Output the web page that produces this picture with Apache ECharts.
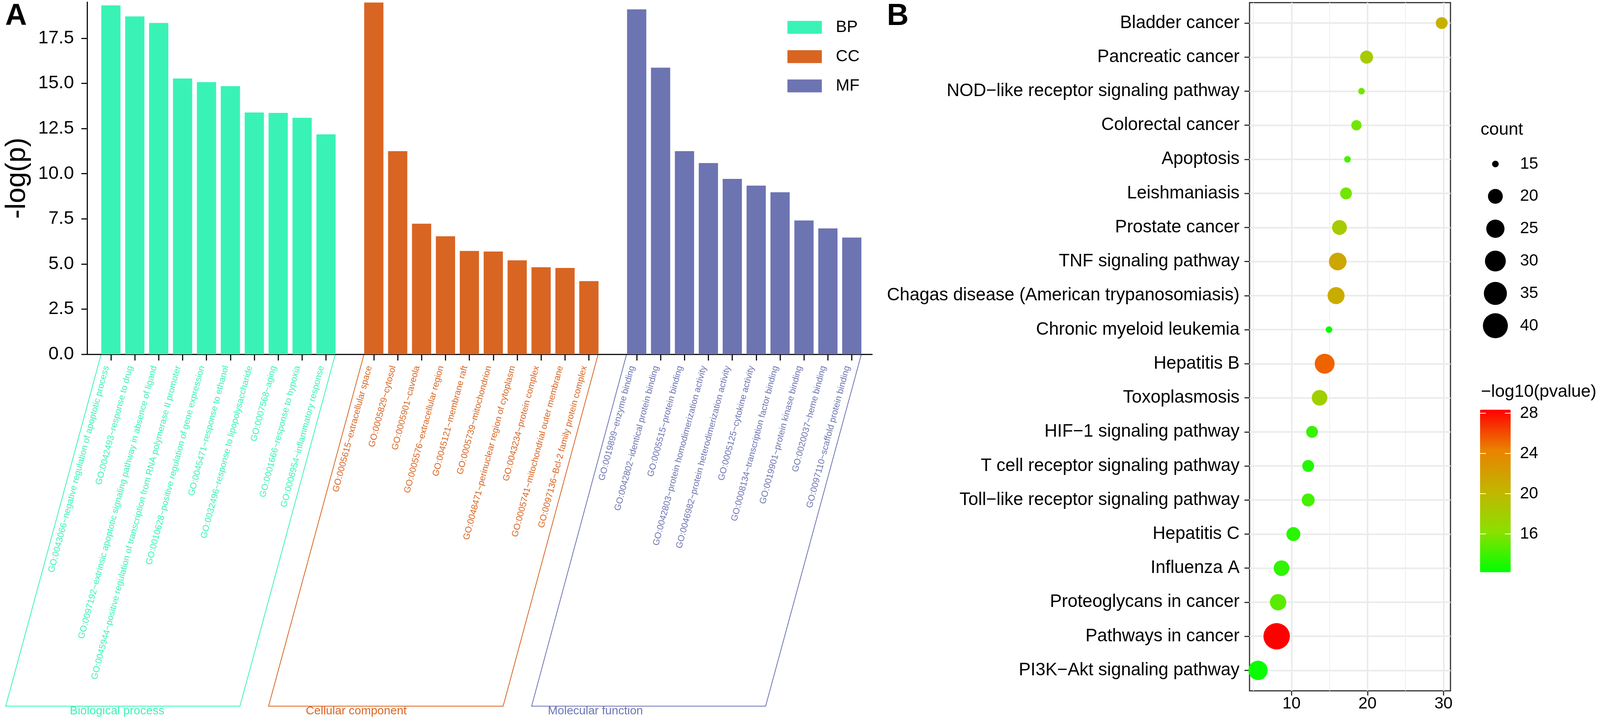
<!DOCTYPE html>
<html><head><meta charset="utf-8">
<style>html,body{margin:0;padding:0;background:#fff;overflow:hidden}#c{height:1846px}</style>
<script src="https://cdn.jsdelivr.net/npm/echarts@6/dist/echarts.min.js"></script>
</head><body><div id="c"></div>
<script>
const FONT = '"Liberation Sans", Arial, sans-serif';
// Panel A
const bpTerms = ['GO:0043066~negative regulation of apoptotic process','GO:0042493~response to drug','GO:0097192~extrinsic apoptotic signaling pathway in absence of ligand','GO:0045944~positive regulation of transcription from RNA polymerase II promoter','GO:0010628~positive regulation of gene expression','GO:0045471~response to ethanol','GO:0032496~response to lipopolysaccharide','GO:0007568~aging','GO:0001666~response to hypoxia','GO:0006954~inflammatory response'];
const ccTerms = ['GO:0005615~extracellular space','GO:0005829~cytosol','GO:0005901~caveola','GO:0005576~extracellular region','GO:0045121~membrane raft','GO:0005739~mitochondrion','GO:0048471~perinuclear region of cytoplasm','GO:0043234~protein complex','GO:0005741~mitochondrial outer membrane','GO:0097136~Bcl-2 family protein complex'];
const mfTerms = ['GO:0019899~enzyme binding','GO:0042802~identical protein binding','GO:0005515~protein binding','GO:0042803~protein homodimerization activity','GO:0046982~protein heterodimerization activity','GO:0005125~cytokine activity','GO:0008134~transcription factor binding','GO:0019901~protein kinase binding','GO:0020037~heme binding','GO:0097110~scaffold protein binding'];
const bpValues = [19.32,18.71,18.35,15.27,15.07,14.85,13.39,13.37,13.10,12.18];
const ccValues = [19.48,11.25,7.23,6.53,5.72,5.69,5.20,4.82,4.78,4.05];
const mfValues = [19.10,15.87,11.25,10.59,9.71,9.34,8.97,7.41,6.97,6.46];
const yTicksA = [0,2.5,5,7.5,10,12.5,15,17.5];
// Panel B
const pathways = ['Bladder cancer','Pancreatic cancer','NOD\u2212like receptor signaling pathway','Colorectal cancer','Apoptosis','Leishmaniasis','Prostate cancer','TNF signaling pathway','Chagas disease (American trypanosomiasis)','Chronic myeloid leukemia','Hepatitis B','Toxoplasmosis','HIF\u22121 signaling pathway','T cell receptor signaling pathway','Toll\u2212like receptor signaling pathway','Hepatitis C','Influenza A','Proteoglycans in cancer','Pathways in cancer','PI3K\u2212Akt signaling pathway'];
const enrichment = [29.77,19.88,19.21,18.54,17.36,17.17,16.31,16.08,15.86,14.93,14.36,13.69,12.70,12.19,12.19,10.24,8.68,8.23,8.04,5.59];
const counts = [17,18,15,16,15,17,20,24,23,15,28,21,17,17,18,19,21,22,44,27];
const logP = [20.6,18.3,15.5,15.5,14.2,15.5,18.2,21.5,21,12.4,25.3,17.8,13.8,13.2,14.2,13.4,13.6,14.8,28.35,12.5];
const xTicksB = [10,20,30];
const xMinorB = [5,15,25];
const legendCounts = [15,20,25,30,35,40];
const colorTicks = [16,20,24,28];

// the browser window may be narrower than the 4328 px reference; fit the layout to it
const W = Math.min(window.innerWidth || 4328, 4328);
const K = W/4328;
const X = v => v*K;
document.getElementById('c').style.width = W+'px';

const COLORS = {BP:'#39F3B6',CC:'#D96522',MF:'#6C74B2'};
const dotSize = c => 17 + 9.4*Math.sqrt(Math.max(c-15,0));
const termAt = i => i<10?bpTerms[i]:i===10?'':i<21?ccTerms[i-11]:i===21?'':mfTerms[i-22];
const colorAt = i => i<=10?COLORS.BP:i<=21?COLORS.CC:COLORS.MF;
const idx = [];for(let i=0;i<32;i++) if(i!==10&&i!==21) idx.push(i);
const barSeries = (name,vals,off)=>({name,type:'bar',xAxisIndex:0,yAxisIndex:0,barWidth:X(52),barGap:'-100%',
  itemStyle:{color:COLORS[name]},data:vals.map((v,i)=>[i+off,v])});
const pLine = (points,color)=>({type:'polyline',silent:true,shape:{points:points.map(p=>[X(p[0]),p[1]])},style:{stroke:color,fill:null,lineWidth:2}});
const gText = (text,x,y,size,color,extra)=>({type:'text',silent:true,x:X(x),y,style:Object.assign({text,fontSize:size,fontFamily:FONT,fill:color,verticalAlign:'middle'},extra||{})});

const option = {
  animation:false, backgroundColor:'#fff',
  grid:[
    {left:X(236),top:5.5,width:X(2123),height:901.5},
    {left:X(3380),top:6.7,width:X(543.5),height:1762,show:true,borderColor:'#333',borderWidth:3,backgroundColor:'transparent'},
    {left:X(3995),top:420,width:X(100),height:414},
    {left:X(4003.5),top:1049,width:X(83),height:416}
  ],
  xAxis:[
    {gridIndex:0,type:'value',min:-0.99,max:31.85,
      axisLine:{onZero:false,lineStyle:{color:'#111',width:3}},splitLine:{show:false},
      axisTick:{length:16,lineStyle:{color:'#111',width:3},customValues:idx},
      axisLabel:{customValues:idx,rotate:75,margin:33,verticalAlign:'bottom',fontSize:22.8,fontFamily:FONT,hideOverlap:false,
        formatter:v=>termAt(+v),color:v=>colorAt(+v)}},
    {gridIndex:1,type:'value',min:4.47,max:30.92,
      axisLine:{onZero:false,show:false},
      axisTick:{length:12,lineStyle:{color:'#333',width:3},customValues:xTicksB},
      axisLabel:{customValues:xTicksB,margin:13,fontSize:42,fontFamily:FONT,color:'#000',hideOverlap:false},
      splitLine:{show:true,lineStyle:{color:'#ebebeb',width:4}}},
    {gridIndex:1,type:'value',min:4.47,max:30.92,
      axisLine:{onZero:false,show:false},axisLabel:{show:false},
      axisTick:{show:false,customValues:xMinorB},
      splitLine:{show:true,lineStyle:{color:'#efefef',width:2}}},
    {gridIndex:2,type:'value',min:-1,max:1,show:false},
    {gridIndex:3,type:'value',min:0,max:1,show:false}
  ],
  yAxis:[
    {gridIndex:0,type:'value',min:0,max:19.5,
      name:'-log(p)',nameLocation:'middle',nameRotate:90,nameGap:143,nameTextStyle:{fontSize:72,fontFamily:FONT,color:'#000'},
      axisLine:{show:true,onZero:false,lineStyle:{color:'#111',width:3}},splitLine:{show:false},
      axisTick:{show:true,length:15,lineStyle:{color:'#111',width:3},customValues:yTicksA},
      axisLabel:{customValues:yTicksA,margin:X(36),fontSize:47,fontFamily:FONT,color:'#000',hideOverlap:false,formatter:v=>(+v).toFixed(1)}},
    {gridIndex:1,type:'value',min:-0.6,max:19.6,inverse:true,
      axisLine:{show:false,onZero:false},
      axisTick:{show:true,length:13,lineStyle:{color:'#333',width:3},customValues:pathways.map((p,i)=>i)},
      axisLabel:{customValues:pathways.map((p,i)=>i),margin:X(27),fontSize:45.5,fontFamily:FONT,color:'#000',hideOverlap:false,formatter:v=>pathways[+v]},
      splitLine:{show:true,lineStyle:{color:'#ebebeb',width:4}}},
    {gridIndex:2,type:'value',min:0,max:5,interval:1,inverse:true,position:'right',
      axisLine:{show:false,onZero:false},axisTick:{show:false},splitLine:{show:false},
      axisLabel:{margin:X(16.6),fontSize:42,fontFamily:FONT,color:'#000',formatter:v=>String(legendCounts[+v])}},
    {gridIndex:3,type:'value',min:12.2,max:28.35,position:'right',z:10,
      axisLine:{show:false,onZero:false},splitLine:{show:false},
      axisTick:{show:true,inside:true,length:15,lineStyle:{color:'#fff',width:2},customValues:colorTicks},
      axisLabel:{customValues:colorTicks,margin:X(24.8),fontSize:42,fontFamily:FONT,color:'#000',hideOverlap:false}},
    {gridIndex:3,type:'value',min:12.2,max:28.35,position:'left',z:10,
      axisLine:{show:false,onZero:false},splitLine:{show:false},axisLabel:{show:false},
      axisTick:{show:true,inside:true,length:15,lineStyle:{color:'#fff',width:2},customValues:colorTicks}}
  ],
  legend:{show:true,data:['BP','CC','MF'],orient:'vertical',left:X(2130),top:49,padding:0,itemWidth:X(93),itemHeight:33,itemGap:33,icon:'rect',selectedMode:false,
    textStyle:{fontSize:42,fontFamily:FONT,color:'#000',padding:[0,0,0,31]}},
  visualMap:[{type:'continuous',seriesIndex:3,dimension:2,min:12.2,max:28.35,calculable:false,left:X(4003.5),top:1049,padding:0,itemWidth:X(83),itemHeight:416,
    inRange:{color:['#00FF00','#8BE000','#C2B500','#E98300','#FF0000']},textStyle:{color:'transparent'},silent:true}],
  series:[
    barSeries('BP',bpValues,0),
    barSeries('CC',ccValues,11),
    barSeries('MF',mfValues,22),
    {type:'scatter',xAxisIndex:1,yAxisIndex:1,clip:false,itemStyle:{opacity:1},
      data:enrichment.map((x,i)=>[x,i,logP[i],counts[i]]),
      symbolSize:d=>dotSize(d[3])},
    {type:'scatter',xAxisIndex:3,yAxisIndex:2,clip:false,
      itemStyle:{color:'#000',opacity:1},
      data:legendCounts.map((c,i)=>[0,i,c]),
      symbolSize:d=>dotSize(d[2])}
  ],
  graphic:[
    gText('A',14,43,77,'#000',{fontWeight:'bold'}),
    gText('B',2399,43,77,'#000',{fontWeight:'bold'}),
    gText('count',4005,333,44.5,'#000'),
    gText('\u2212log10(pvalue)',4006,1004,44.5,'#000'),
    pLine([[273.6,907],[15.4,1808],[649,1808],[907,907]],COLORS.BP),
    pLine([[984.7,907],[726.5,1808],[1361,1808],[1618,907]],COLORS.CC),
    pLine([[1695,907],[1438,1808],[2071,1808],[2330,907]],COLORS.MF),
    gText('Biological process',189,1821,30,COLORS.BP),
    gText('Cellular component',827,1821,30,COLORS.CC),
    gText('Molecular function',1482,1821,30,COLORS.MF)
  ]
};
const chart = echarts.init(document.getElementById('c'),null,{renderer:'canvas',width:W,height:1846});
chart.setOption(option);
</script></body></html>
